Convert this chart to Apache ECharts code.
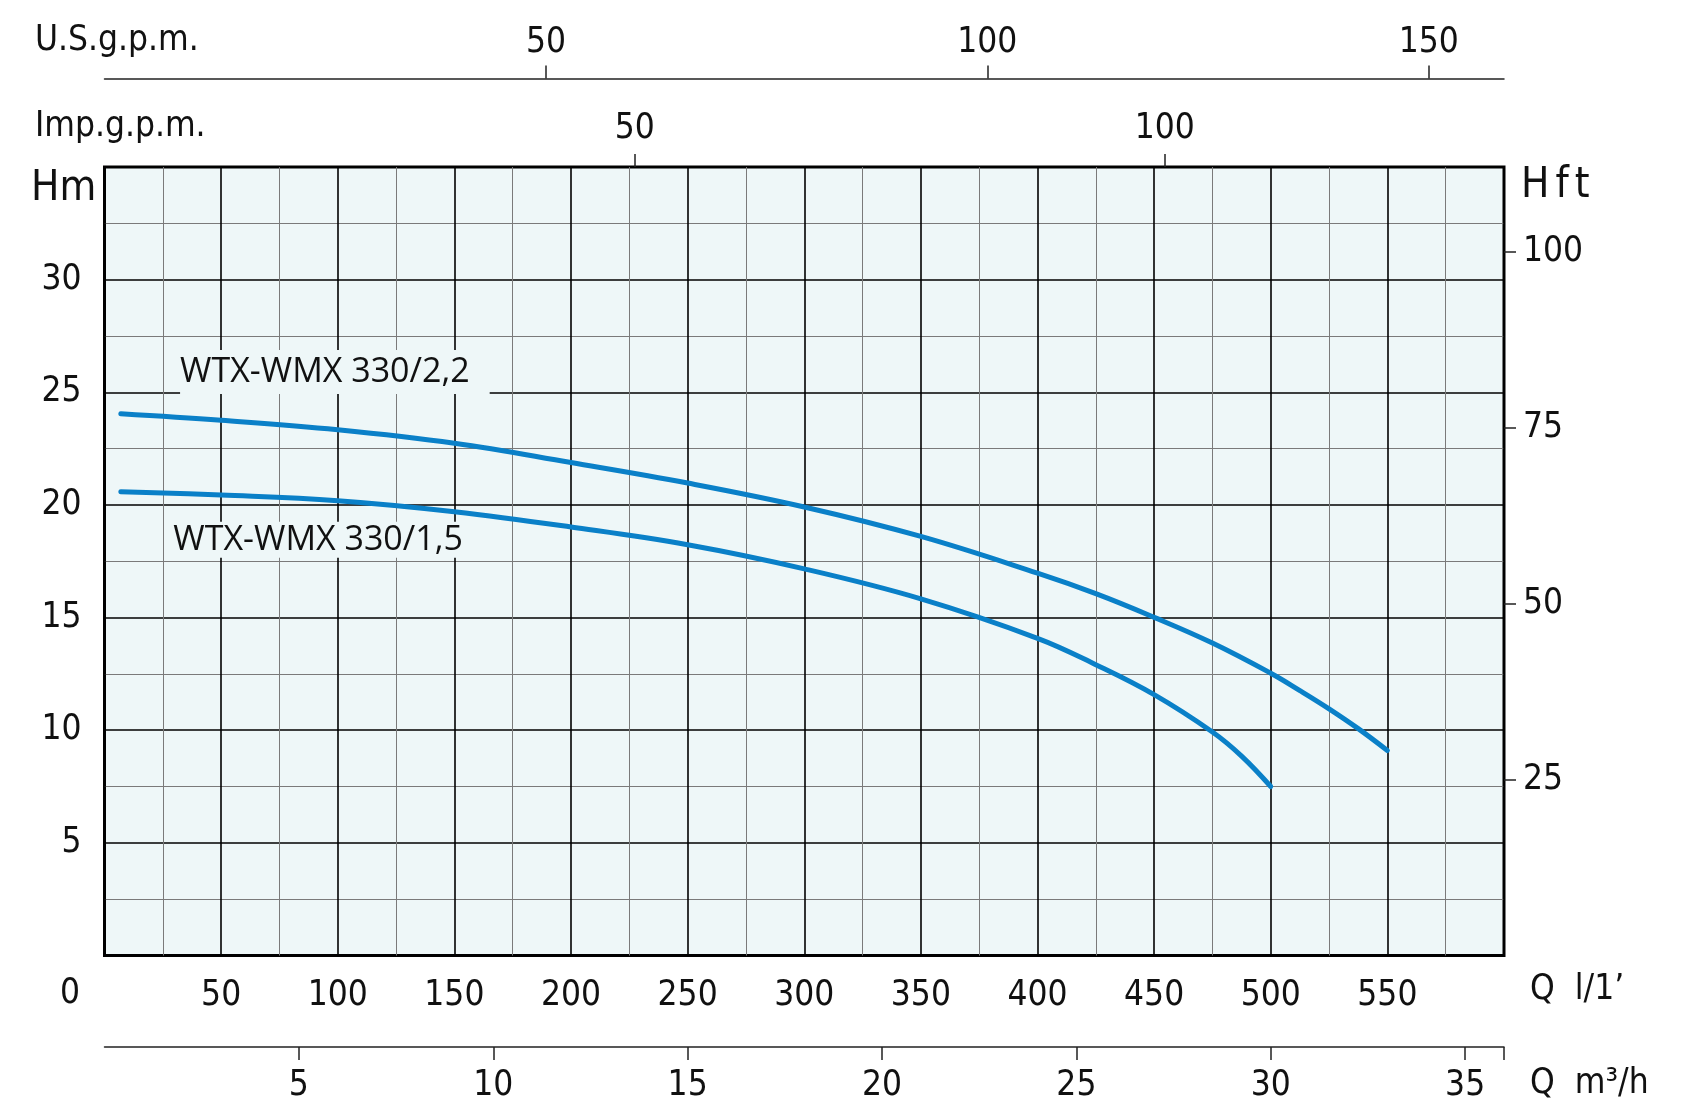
<!DOCTYPE html>
<html>
<head>
<meta charset="utf-8">
<script src="https://cdn.jsdelivr.net/npm/echarts@6/dist/echarts.min.js"></script>
<style>
  html, body { margin: 0; padding: 0; background: #fff; }
  #chart { width: 1689px; height: 1118px; }
</style>
</head>
<body>
<div id="chart"></div>
<script>
// pump curves, Q in l/min, H in m
const qPump22 = [7, 50, 100, 150, 200, 250, 300, 350, 400, 425, 450, 475, 500, 512.5, 525, 537.5, 550];
const hPump22 = [24.05, 23.76, 23.34, 22.74, 21.88, 20.97, 19.91, 18.6, 16.97, 16.06, 15.01, 13.87, 12.53, 11.76, 10.95, 10.07, 9.1];
const qPump15 = [7, 50, 100, 150, 200, 250, 300, 350, 400, 425, 450, 475, 487.5, 500];
const hPump15 = [20.59, 20.44, 20.19, 19.7, 19.02, 18.23, 17.16, 15.83, 14.08, 12.91, 11.58, 9.92, 8.85, 7.5];

const pumpNames = ['WTX-WMX 330/2,2', 'WTX-WMX 330/1,5'];
// where the curve names sit (Q l/min, H m)
const nameAnchors = [[32.4, 25.9], [29.5, 18.45]];

// axis ranges / ticks
const qMax = 600;        // l/min
const hMax = 35;         // m
const hftMax = 112;      // ft, as drawn on the sheet
const usGal = 3.785, impGal = 4.546;
const usTicks = [50, 100, 150];
const impTicks = [50, 100];
const m3hTicks = [5, 10, 15, 20, 25, 30, 35];
const hftTicks = [25, 50, 75, 100];

const numFont = "'Liberation Sans Narrow', 'DejaVu Sans Condensed', sans-serif";
const nameFont = "'Open Sans', 'Noto Sans', sans-serif";
const plotBg = '#eef7f8';
const curveColor = '#0a80c8';

const toPairs = (xs, ys) => xs.map((x, i) => [x, ys[i]]);

const chart = echarts.init(document.getElementById('chart'));

const labelStyle = { color: '#111', fontFamily: numFont, fontSize: 35 };
const tickStyle = { show: true, inside: false, length: 13, lineStyle: { color: '#222', width: 1.5 } };

const option = {
  animation: false,
  backgroundColor: '#fff',
  grid: {
    left: 104.5, right: 185, top: 167, bottom: 162.5,
    show: true, backgroundColor: plotBg, borderColor: '#000', borderWidth: 3
  },
  xAxis: [
    {
      type: 'value', position: 'bottom', min: 0, max: qMax, interval: 50,
      axisLine: { show: false, onZero: false }, axisTick: { show: false },
      axisLabel: Object.assign({ margin: 23, formatter: v => (v === 0 || v === qMax) ? '' : v }, labelStyle),
      splitLine: { show: true, lineStyle: { color: '#000', width: 1.6 } },
      minorTick: { show: false, splitNumber: 2 },
      minorSplitLine: { show: true, lineStyle: { color: '#7a7a7a', width: 1 } }
    },
    {
      type: 'value', position: 'top', min: 0, max: qMax / impGal,
      axisLine: { show: false, onZero: false },
      axisTick: Object.assign({ customValues: impTicks }, tickStyle),
      axisLabel: Object.assign({ margin: 21, customValues: impTicks }, labelStyle),
      splitLine: { show: false }
    },
    {
      type: 'value', position: 'top', offset: 88.4, min: 0, max: qMax / usGal,
      axisLine: { show: true, onZero: false, lineStyle: { color: '#222', width: 1.5 } },
      axisTick: Object.assign({ customValues: usTicks }, tickStyle),
      axisLabel: Object.assign({ margin: 18, customValues: usTicks }, labelStyle),
      splitLine: { show: false }
    },
    {
      type: 'value', position: 'bottom', offset: 91.5, min: 0, max: qMax * 60 / 1000,
      axisLine: { show: true, onZero: false, lineStyle: { color: '#222', width: 1.5 } },
      axisTick: Object.assign({ customValues: m3hTicks.concat([qMax * 60 / 1000]) }, tickStyle),
      axisLabel: Object.assign({ margin: 21, customValues: m3hTicks }, labelStyle),
      splitLine: { show: false }
    }
  ],
  yAxis: [
    {
      type: 'value', position: 'left', min: 0, max: hMax, interval: 5,
      axisLine: { show: false, onZero: false }, axisTick: { show: false },
      axisLabel: Object.assign({ margin: 23, formatter: v => (v === 0 || v === hMax) ? '' : v }, labelStyle),
      splitLine: { show: true, lineStyle: { color: '#000', width: 1.6 } },
      minorTick: { show: false, splitNumber: 2 },
      minorSplitLine: { show: true, lineStyle: { color: '#7a7a7a', width: 1 } }
    },
    {
      type: 'value', position: 'right', min: 0, max: hftMax,
      axisLine: { show: false, onZero: false },
      axisTick: Object.assign({ customValues: hftTicks }, tickStyle, { length: 12 }),
      axisLabel: Object.assign({ margin: 19, customValues: hftTicks }, labelStyle),
      splitLine: { show: false }
    }
  ],
  series: [
    {
      name: pumpNames[0], type: 'line', xAxisIndex: 0, yAxisIndex: 0,
      data: toPairs(qPump22, hPump22), smooth: 0.4, showSymbol: false,
      lineStyle: { color: curveColor, width: 5, cap: 'round' }
    },
    {
      name: pumpNames[1], type: 'line', xAxisIndex: 0, yAxisIndex: 0,
      data: toPairs(qPump15, hPump15), smooth: 0.4, showSymbol: false,
      lineStyle: { color: curveColor, width: 5, cap: 'round' }
    }
  ]
};
chart.setOption(option);

// unit captions and curve names
const caption = (text, x, y, size, align) => ({
  type: 'text', x: x, y: y,
  style: { text: text, fill: '#111', font: size + 'px ' + numFont, textAlign: align || 'left', textVerticalAlign: 'middle' }
});

const graphics = [
  caption('U.S.g.p.m.', 35, 41, 35),
  caption('Imp.g.p.m.', 35, 127, 35),
  caption('Hm', 31, 189, 42),
  caption('0', 70, 994, 35, 'center'),
  caption('Q  l/1\u2019', 1530, 990, 35),
  caption('Q  m\u00b3/h', 1530, 1084, 35),
  {
    type: 'text', x: 1521, y: 186,
    style: {
      text: '{h|H}{s|f}{s|t}', textVerticalAlign: 'middle',
      rich: {
        h: { fontSize: 42, fontFamily: numFont, fill: '#111' },
        s: { fontSize: 42, fontFamily: numFont, fill: '#111', padding: [0, 0, 0, 6] }
      }
    }
  }
];

pumpNames.forEach((name, i) => {
  const p = chart.convertToPixel({ xAxisIndex: 0, yAxisIndex: 0 }, nameAnchors[i]);
  graphics.push({
    type: 'text', x: p[0], y: p[1], z: 10,
    style: {
      text: name, fill: '#111', font: '34px ' + nameFont,
      textVerticalAlign: 'middle',
      backgroundColor: plotBg,
      padding: i === 0 ? [0, 20, 10, 0] : [0, 4, 2, 0]
    }
  });
});

chart.setOption({ graphic: graphics });
</script>
</body>
</html>
